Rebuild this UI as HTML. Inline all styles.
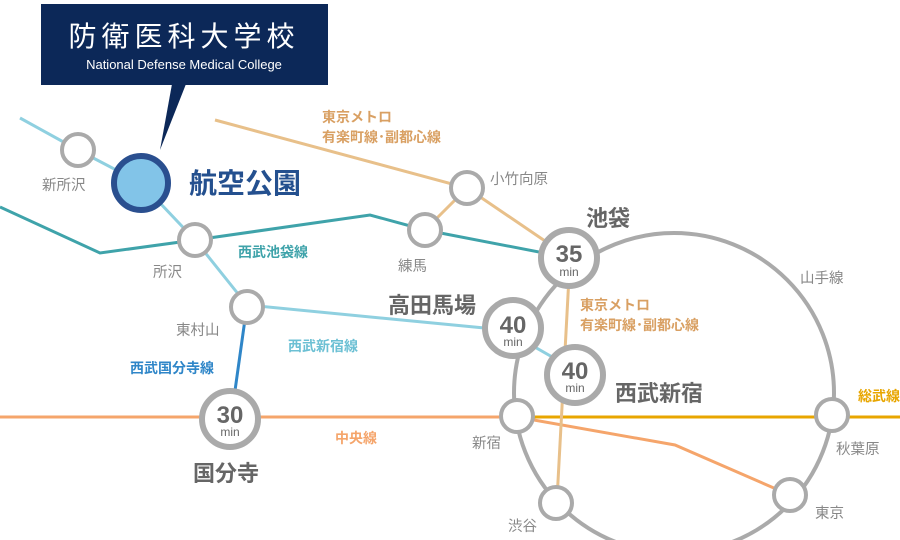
<!DOCTYPE html>
<html><head><meta charset="utf-8"><style>
html,body{margin:0;padding:0;background:#fff;}
svg{display:block;font-family:"Liberation Sans","Noto Sans CJK JP",sans-serif;}
</style></head><body>
<svg width="900" height="540" viewBox="0 0 900 540" xmlns="http://www.w3.org/2000/svg">
<rect width="900" height="540" fill="#fff"/>
<circle cx="674" cy="393" r="160" fill="none" stroke="#aaa" stroke-width="4"/>
<polyline points="0,207 100,253 195,240 370,215 425,230 570,258" fill="none" stroke="#3fa3aa" stroke-width="3"/>
<polyline points="20,118 78,150 141,183 195,240 247,305 505,330 575,370" fill="none" stroke="#8fd0e0" stroke-width="3"/>
<line x1="247" y1="305" x2="232" y2="412" stroke="#2f86c8" stroke-width="3"/>
<polyline points="0,417 517,417 675,445 790,495" fill="none" stroke="#f5a56b" stroke-width="3"/>
<line x1="517" y1="417" x2="900" y2="417" stroke="#e8a600" stroke-width="3"/>
<polyline points="215,120 467,188 425,230" fill="none" stroke="#e8c08a" stroke-width="3"/>
<polyline points="467,188 570,258 557,500" fill="none" stroke="#e8c08a" stroke-width="3"/>
<rect x="41" y="4" width="287" height="81" fill="#0c2858"/>
<polygon points="172,84 186,84 160,150" fill="#0c2858"/>
<text x="184" y="46" fill="#fff" font-size="28" text-anchor="middle" letter-spacing="5">防衛医科大学校</text>
<text x="184" y="69" fill="#fff" font-size="13" text-anchor="middle">National Defense Medical College</text>
<g fill="#fff" stroke="#aaa" stroke-width="4">
<circle cx="78" cy="150" r="16"/><circle cx="195" cy="240" r="16"/><circle cx="247" cy="307" r="16"/>
<circle cx="425" cy="230" r="16"/><circle cx="467" cy="188" r="16"/><circle cx="517" cy="416" r="16"/>
<circle cx="556" cy="503" r="16"/><circle cx="790" cy="495" r="16"/><circle cx="832" cy="415" r="16"/>
</g>
<circle cx="141" cy="183" r="27" fill="#82c4e8" stroke="#2a4f8f" stroke-width="6"/>
<g fill="#fff" stroke="#aaa" stroke-width="6">
<circle cx="569" cy="258" r="28"/><circle cx="513" cy="328" r="28"/><circle cx="575" cy="375" r="28"/><circle cx="230" cy="419" r="28"/>
</g>
<g fill="#666" text-anchor="middle">
<text x="569" y="262" font-size="24" font-weight="bold">35</text><text x="569" y="276" font-size="12">min</text>
<text x="513" y="333" font-size="24" font-weight="bold">40</text><text x="513" y="346" font-size="12">min</text>
<text x="575" y="379" font-size="24" font-weight="bold">40</text><text x="575" y="392" font-size="12">min</text>
<text x="230" y="423" font-size="24" font-weight="bold">30</text><text x="230" y="436" font-size="12">min</text>
</g>
<text x="189" y="193" fill="#24508f" font-size="28" font-weight="bold">航空公園</text>
<g fill="#888" font-size="14.5">
<text x="42" y="190">新所沢</text><text x="153" y="277">所沢</text><text x="176" y="335">東村山</text>
<text x="398" y="271">練馬</text><text x="490" y="184">小竹向原</text><text x="472" y="448">新宿</text>
<text x="508" y="531">渋谷</text><text x="815" y="518">東京</text><text x="836" y="454">秋葉原</text>
<text x="800" y="283">山手線</text>
</g>
<g fill="#666" font-size="22" font-weight="bold">
<text x="586" y="226">池袋</text><text x="388" y="313">高田馬場</text><text x="615" y="401">西武新宿</text><text x="193" y="481">国分寺</text>
</g>
<g font-size="14" font-weight="bold">
<text x="322" y="122" fill="#d9a063">東京メトロ</text><text x="322" y="142" fill="#d9a063">有楽町線･副都心線</text>
<text x="580" y="310" fill="#d9a063">東京メトロ</text><text x="580" y="330" fill="#d9a063">有楽町線･副都心線</text>
<text x="238" y="257" fill="#3fa3aa">西武池袋線</text>
<text x="288" y="351" fill="#6cc0d4">西武新宿線</text>
<text x="130" y="373" fill="#2f86c8">西武国分寺線</text>
<text x="335" y="443" fill="#f5a56b">中央線</text>
<text x="858" y="401" fill="#e8a600">総武線</text>
</g>
</svg>
</body></html>
